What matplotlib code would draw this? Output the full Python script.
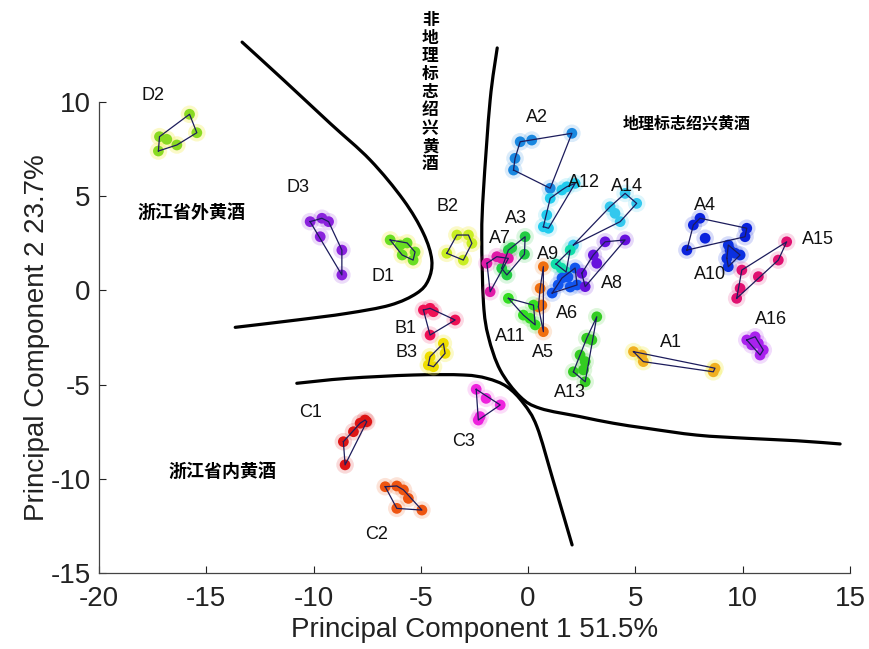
import matplotlib
matplotlib.use("Agg")
import matplotlib.pyplot as plt
from matplotlib.path import Path
from matplotlib.patches import PathPatch
import numpy as np

plt.rcParams['font.family'] = ['Liberation Sans', 'DejaVu Sans']
plt.rcParams['axes.unicode_minus'] = False

# ---- data (PC1, PC2 scores per sample group) ----
D2_x = [-15.78, -15.44, -17.23, -17.18, -16.84, -16.37]
D2_y = [9.35, 8.37, 7.40, 8.16, 8.02, 7.72]
D3_x = [-10.16, -9.61, -9.30, -9.69, -8.68, -8.68]
D3_y = [3.65, 3.83, 3.65, 2.85, 2.14, 0.82]
D1_x = [-6.43, -5.96, -5.64, -5.27, -5.36, -5.87]
D1_y = [2.68, 2.41, 2.52, 2.04, 1.61, 1.88]
B2_x = [-3.32, -2.78, -2.62, -3.02, -3.79]
B2_y = [2.94, 2.94, 2.50, 1.61, 1.97]
B1_x = [-4.88, -4.57, -4.41, -3.40, -4.57]
B1_y = [-1.04, -0.95, -1.13, -1.57, -2.37]
B3_x = [-3.95, -3.87, -4.41, -4.65, -4.57]
B3_y = [-2.81, -3.34, -4.05, -3.96, -3.52]
C1_x = [-7.60, -7.83, -8.14, -8.61, -8.53, -7.52]
C1_y = [-6.88, -7.05, -7.50, -8.03, -9.26, -6.97]
C2_x = [-6.66, -6.12, -5.81, -5.58, -6.12, -4.95]
C2_y = [-10.42, -10.38, -10.59, -11.04, -11.57, -11.66]
C3_x = [-2.42, -1.96, -1.30, -2.32, -2.24]
C3_y = [-5.25, -5.73, -6.08, -6.88, -6.70]
A2_x = [-0.37, 0.17, 2.04, -0.61, -0.68, 1.03]
A2_y = [7.89, 7.98, 8.34, 7.01, 6.39, 5.42]
A12_x = [2.19, 1.80, 1.57, 1.03, 0.87, 0.95, 0.71]
A12_y = [5.68, 5.50, 5.33, 4.89, 4.00, 3.30, 3.38]
A14_x = [4.52, 5.06, 3.82, 4.05, 4.29, 2.11]
A14_y = [5.15, 4.62, 4.44, 4.09, 3.65, 2.41]
A3_x = [-0.14, -0.76, -0.17, -0.92, -1.23, -0.99]
A3_y = [2.85, 2.27, 1.92, 2.14, 1.17, 0.82]
A7_x = [-1.92, -1.46, -1.23, -0.92, -1.77]
A7_y = [1.44, 1.79, 1.70, 1.70, -0.07]
A9_x = [1.96, 1.30, 1.54, 1.77]
A9_y = [2.14, 1.40, 1.19, 0.98]
A6_x = [2.19, 1.86, 1.58, 1.40, 1.96, 2.28, 1.12]
A6_y = [1.19, 0.71, 0.66, 0.29, 0.18, 0.29, -0.14]
A8_x = [3.59, 4.52, 3.04, 3.20, 2.50, 2.66]
A8_y = [2.58, 2.68, 1.88, 1.44, 0.91, 0.20]
A5_x = [0.71, 0.56, 0.64, 0.48, 0.71]
A5_y = [1.26, 0.11, -0.78, -0.87, -2.19]
A11_x = [-0.92, -0.22, 0.09, 0.33, 0.25]
A11_y = [-0.42, -1.31, -1.48, -1.83, -0.78]
A13_x = [3.20, 2.73, 2.97, 2.42, 2.66, 2.11, 2.66, 2.58]
A13_y = [-1.40, -2.54, -2.63, -3.43, -3.78, -4.32, -4.85, -4.22]
A1_x = [4.91, 5.30, 5.37, 8.71, 8.63]
A1_y = [-3.25, -3.43, -3.78, -4.13, -4.32]
A16_x = [10.19, 10.58, 10.73, 10.96, 10.81, 10.42]
A16_y = [-2.63, -2.46, -2.81, -3.16, -3.43, -2.89]
A4_x = [8.01, 7.70, 8.25, 7.40, 10.19, 10.11]
A4_y = [3.83, 3.47, 2.77, 2.14, 3.30, 2.85]
A10_x = [9.33, 9.65, 9.26, 9.33, 9.88, 9.41]
A10_y = [2.41, 1.97, 1.70, 1.26, 1.88, 2.14]
A15_x = [12.05, 11.66, 10.73, 9.96, 9.88, 9.72]
A15_y = [2.58, 1.61, 0.73, 1.08, 0.11, -0.42]

# boundary curves separating the classes
curve1_x = [-13.33, -11.40, -9.23, -7.36, -5.81, -4.88, -4.49, -4.65, -5.19, -6.43, -8.45, -10.78, -13.65]
curve1_y = [13.18, 11.17, 8.87, 6.92, 4.80, 3.03, 1.61, 0.55, -0.15, -0.78, -1.22, -1.57, -1.96]
curve2_x = [-1.44, -1.77, -2.08, -2.16, -2.08, -1.85, -1.30, -0.37, 0.56, 2.42, 3.97, 5.53, 7.86, 10.19, 12.52, 14.54]
curve2_y = [12.87, 10.10, 5.32, 2.85, -0.68, -2.46, -4.23, -5.64, -6.26, -6.70, -7.05, -7.32, -7.68, -7.85, -7.98, -8.15]
curve3_x = [-10.78, -8.45, -5.34, -3.01, -1.92, -0.99, -0.22, 0.41, 1.16, 2.05]
curve3_y = [-4.93, -4.67, -4.49, -4.49, -4.67, -5.11, -5.99, -7.23, -10.06, -13.51]

group_names = ["D2", "D3", "D1", "B2", "B1", "B3", "C1", "C2", "C3",
               "A2", "A12", "A14", "A3", "A7", "A9", "A6", "A8", "A5",
               "A11", "A13", "A1", "A16", "A4", "A10", "A15"]
xticks = [-20, -15, -10, -5, 0, 5, 10, 15]
yticks = [-15, -10, -5, 0, 5, 10]
xlabel = "Principal Component 1 51.5%"
ylabel = "Principal Component 2 23.7%"
region_outside = "浙江省外黄酒"
region_inside = "浙江省内黄酒"
region_gi = "地理标志绍兴黄酒"
region_nongi = "非地理标志绍兴黄酒"

# ---- styles ----
colors = {
    "D2": "#8ada22", "D3": "#8a22dd", "D1": "#6ade22", "B2": "#c8ee22",
    "B1": "#ee1155", "B3": "#eedd00", "C1": "#dd1515", "C2": "#ee5511",
    "C3": "#ee22dd", "A2": "#1a88e0", "A12": "#22ccee", "A14": "#33c8ee",
    "A3": "#22cc44", "A7": "#e01aa8", "A9": "#11ddaa", "A6": "#1155ee",
    "A8": "#6611dd", "A5": "#f07010", "A11": "#33dd22", "A13": "#33cc22",
    "A1": "#f0b020", "A16": "#aa22ee", "A4": "#0a22dd", "A10": "#0a30e0",
    "A15": "#e01070",
}
yellow_halo = {"D2", "D1", "B2", "B3", "A1"}
label_pos = {
    "D2": (-17.47, 10.37), "D3": (-10.72, 5.44), "D1": (-6.76, 0.76),
    "B2": (-3.77, 4.43), "B1": (-5.73, -2.0), "B3": (-5.69, -3.32),
    "C1": (-10.16, -6.50), "C2": (-7.08, -12.97), "C3": (-3.03, -8.0),
    "A2": (0.42, 9.20), "A12": (2.61, 5.75), "A14": (4.61, 5.54),
    "A3": (-0.56, 3.84), "A7": (-1.30, 2.77), "A9": (0.93, 1.88),
    "A8": (3.91, 0.39), "A6": (1.82, -1.25), "A11": (-0.84, -2.47),
    "A5": (0.70, -3.32), "A13": (1.96, -5.44), "A1": (6.66, -2.79),
    "A4": (8.25, 4.53), "A10": (8.48, 0.87), "A15": (13.51, 2.68),
    "A16": (11.32, -1.57),
}

def hull(xs, ys):
    pts = sorted(set(zip(xs, ys)))
    if len(pts) < 3:
        return pts
    def cross(o, a, b):
        return (a[0]-o[0])*(b[1]-o[1]) - (a[1]-o[1])*(b[0]-o[0])
    lower, upper = [], []
    for p in pts:
        while len(lower) >= 2 and cross(lower[-2], lower[-1], p) <= 0:
            lower.pop()
        lower.append(p)
    for p in reversed(pts):
        while len(upper) >= 2 and cross(upper[-2], upper[-1], p) <= 0:
            upper.pop()
        upper.append(p)
    return lower[:-1] + upper[:-1]

def smooth_path(xs, ys):
    # Catmull-Rom through the given points, expressed as cubic Bezier segments
    p = np.column_stack([xs, ys]).astype(float)
    verts = [p[0]]
    codes = [Path.MOVETO]
    n = len(p)
    for i in range(n - 1):
        p0 = p[i - 1] if i > 0 else p[i]
        p1, p2 = p[i], p[i + 1]
        p3 = p[i + 2] if i + 2 < n else p[i + 1]
        c1 = p1 + (p2 - p0) / 6.0
        c2 = p2 - (p3 - p1) / 6.0
        verts += [c1, c2, p2]
        codes += [Path.CURVE4] * 3
    return Path(verts, codes)

fig = plt.figure(figsize=(8.69, 6.49), dpi=100)
ax = fig.add_axes([0.1139, 0.1171, 0.8642, 0.7257])

data = globals()
for name in group_names:
    xs = data[name + "_x"]
    ys = data[name + "_y"]
    c = colors[name]
    halo = "#f4f060" if name in yellow_halo else c
    ax.scatter(xs, ys, s=160, color=halo, alpha=0.35 if name in yellow_halo else 0.16,
               edgecolors="none", zorder=2, clip_on=False)
    ax.scatter(xs, ys, s=60, color=c, edgecolors="none", zorder=3, clip_on=False)
    h = hull(xs, ys)
    hx = [q[0] for q in h] + [h[0][0]]
    hy = [q[1] for q in h] + [h[0][1]]
    ax.plot(hx, hy, color="#1c1c5c", lw=0.9, zorder=4, clip_on=False)
    lx, ly = label_pos[name]
    ax.text(lx, ly, name, fontsize=13, ha="center", va="center", color="#111111",
            zorder=5, clip_on=False)

for cx, cy in [(curve1_x, curve1_y), (curve2_x, curve2_y), (curve3_x, curve3_y)]:
    patch = PathPatch(smooth_path(cx, cy), facecolor="none", edgecolor="black",
                      lw=2.3, capstyle="round", zorder=1, clip_on=False)
    ax.add_patch(patch)

cjk = ['Noto Sans CJK SC', 'DejaVu Sans']
ax.text(-15.70, 4.15, region_outside, family=cjk, fontweight="bold", fontsize=13,
        ha="center", va="center")
ax.text(-14.26, -9.63, region_inside, family=cjk, fontweight="bold", fontsize=13,
        ha="center", va="center")
ax.text(7.41, 8.87, region_gi, family=cjk, fontweight="bold", fontsize=11.5,
        ha="center", va="center")
ax.text(-4.57, 10.53, "\n".join(region_nongi), family=cjk, fontweight="bold",
        fontsize=12, ha="center", va="center", linespacing=1.0, clip_on=False)

ax.set_xlim(-20, 15)
ax.set_ylim(-15, 10)
ax.set_xticks(xticks)
ax.set_yticks(yticks)
ax.tick_params(direction="in", length=5, width=0.8, labelsize=20, colors="#222222")
ax.tick_params(axis="x", pad=9)
ax.tick_params(axis="y", pad=6)
for s in ["top", "right"]:
    ax.spines[s].set_visible(False)
for s in ["left", "bottom"]:
    ax.spines[s].set_color("#444444")
    ax.spines[s].set_linewidth(0.9)
ax.set_xlabel(xlabel, fontsize=20, color="#222222", labelpad=4)
ax.set_ylabel(ylabel, fontsize=20, color="#222222", labelpad=0)

fig.savefig("out.png", dpi=100)
